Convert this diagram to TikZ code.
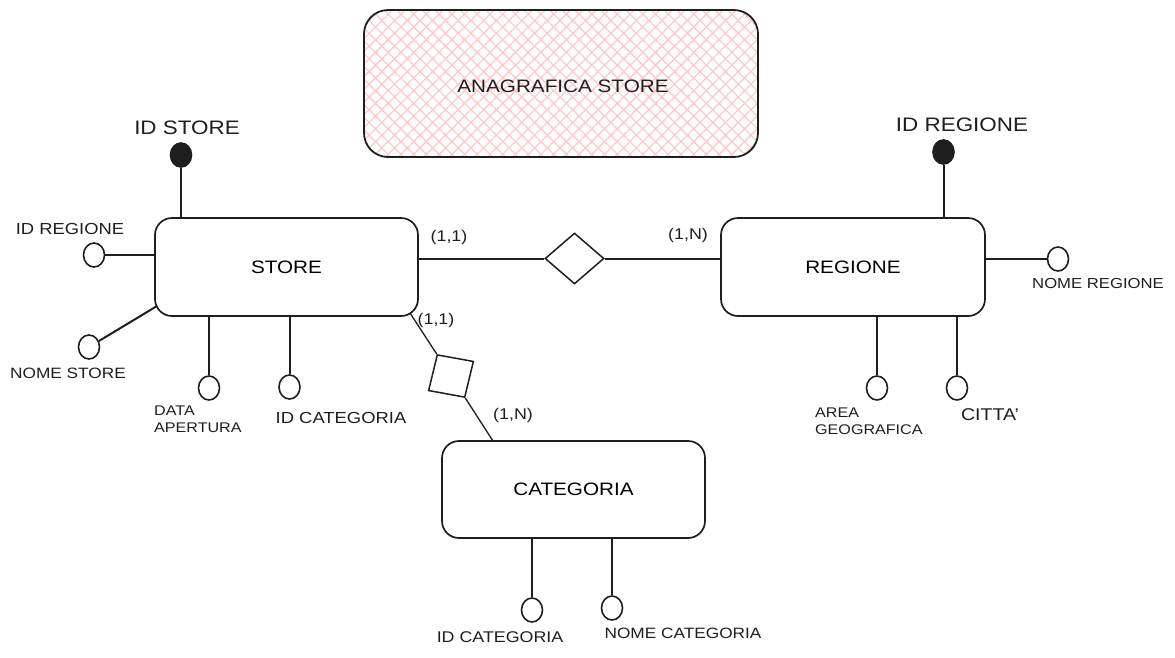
\documentclass[tikz,border=0pt]{standalone}
\usepackage{fontspec}
\setmainfont{Liberation Sans}[FakeStretch=1.15]
\usetikzlibrary{shapes.geometric,patterns.meta}
\definecolor{ink}{HTML}{1E1E1E}
\definecolor{hatch}{HTML}{FFC9C9}
\newcommand{\fs}[1]{\fontsize{#1}{#1}\selectfont}
\tikzset{
  entity/.style={draw=ink, line width=1.7pt, rounded corners=17pt, fill=white, inner sep=0pt, font=\fs{18}},
  attr/.style={ellipse, draw=ink, line width=1.6pt, fill=white, minimum width=21pt, minimum height=24pt, inner sep=0pt},
  keyattr/.style={attr, fill=ink},
  rel/.style={diamond, draw=ink, line width=1.5pt, fill=white, inner sep=0pt},
  link/.style={draw=ink, line width=2pt},
  thinlink/.style={draw=ink, line width=1.3pt},
  lbl/.style={text=ink, inner sep=0pt},
  card/.style={lbl, font=\fs{15.5}},
}
\begin{document}
\begin{tikzpicture}[x=1pt,y=-1pt]
\useasboundingbox (0,0) rectangle (1175,657);

% title box
\path[rounded corners=24pt,
      preaction={pattern={Lines[angle=45,distance=9pt,line width=1.3pt]}, pattern color=hatch},
      preaction={pattern={Lines[angle=-45,distance=9pt,line width=1.3pt]}, pattern color=hatch},
      draw=ink, line width=1.8pt]
  (364,10) rectangle (758,157);
\node[lbl, font=\fs{18}] (title) at (563,86) {ANAGRAFICA STORE};

% entities
\node[entity, minimum width=263pt, minimum height=98pt] (store) at (286.5,267) {STORE};
\node[entity, minimum width=264pt, minimum height=98pt] (regione) at (853,267) {REGIONE};
\node[entity, minimum width=263pt, minimum height=97pt] (categoria) at (573.5,489.5) {CATEGORIA};

% relationships
\node[rel, minimum width=59pt, minimum height=51pt] (r1) at (574.5,258.5) {};
\node[rel, minimum width=51pt, minimum height=54pt, rotate=-57] (r2) at (451,376) {};

\draw[link] (r1.west -| store.east) -- (r1.west);
\draw[link] (r1.east) -- (r1.east -| regione.west);

\coordinate (sc) at (410,313);
\coordinate (cc) at (493,441);
\draw[thinlink] (sc) -- (r2.west);
\draw[thinlink] (r2.east) -- (cc);

% cardinalities
\node[card] (c1) at (449,237) {(1,1)};
\node[card] (c2) at (688,235) {(1,N)};
\node[card] (c3) at (436,320) {(1,1)};
\node[card] (c4) at (513,415) {(1,N)};

% STORE attributes
\node[keyattr] (sid) at (181,155) {};
\draw[link] (sid) -- (sid |- store.north);
\node[lbl, font=\fs{19.5}] (sidl) at (187,128) {ID STORE};

\node[attr] (sreg) at (94,255) {};
\draw[link] (sreg) -- (sreg -| store.west);
\node[lbl, font=\fs{16}] (sregl) at (70,229) {ID REGIONE};

\coordinate (slc) at (157,306);
\node[attr] (snome) at (89,347) {};
\draw[link] (snome) -- (slc);
\node[lbl, font=\fs{15}] (snomel) at (68,373) {NOME STORE};

\node[attr] (sdata) at (209,388) {};
\draw[link] (sdata) -- (sdata |- store.south);
\node[lbl, font=\fs{14}, align=left, anchor=west] (sdatal) at (154,419) {DATA\\[3pt]APERTURA};

\node[attr] (scat) at (289.5,387) {};
\draw[link] (scat) -- (scat |- store.south);
\node[lbl, font=\fs{16}] (scatl) at (341,418) {ID CATEGORIA};

% REGIONE attributes
\node[keyattr] (rid) at (943.5,152) {};
\draw[link] (rid) -- (rid |- regione.north);
\node[lbl, font=\fs{19.5}] (ridl) at (962,125) {ID REGIONE};

\node[attr] (rnome) at (1058,259) {};
\draw[link] (rnome) -- (rnome -| regione.east);
\node[lbl, font=\fs{14.5}] (rnomel) at (1098,283) {NOME REGIONE};

\node[attr] (rarea) at (877,388) {};
\draw[link] (rarea) -- (rarea |- regione.south);
\node[lbl, font=\fs{14}, align=left, anchor=west] (rareal) at (815,421.5) {AREA\\[3pt]GEOGRAFICA};

\node[attr] (rcitta) at (957,388) {};
\draw[link] (rcitta) -- (rcitta |- regione.south);
\node[lbl, font=\fs{17}] (rcittal) at (990,415) {CITTA'};

% CATEGORIA attributes
\node[attr] (cid) at (532,610) {};
\draw[link] (cid) -- (cid |- categoria.south);
\node[lbl, font=\fs{15.5}] (cidl) at (500,637) {ID CATEGORIA};

\node[attr] (cnome) at (612,608) {};
\draw[link] (cnome) -- (cnome |- categoria.south);
\node[lbl, font=\fs{15}] (cnomel) at (683,633) {NOME CATEGORIA};
\end{tikzpicture}
\end{document}
